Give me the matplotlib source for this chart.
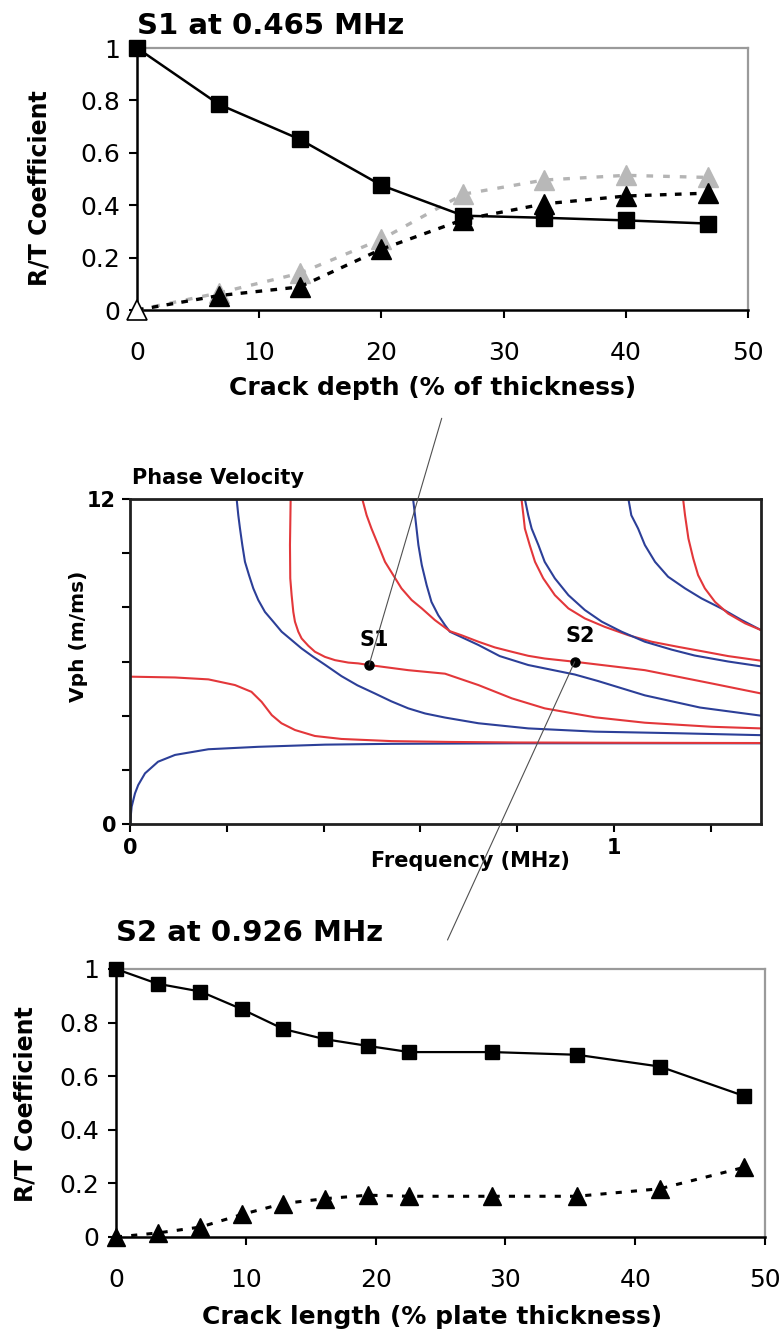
import matplotlib
matplotlib.use('Agg')
import matplotlib.pyplot as plt
from matplotlib.patches import ConnectionPatch

plt.rcParams['font.family'] = ['DejaVu Sans']

# ---------------- data: top chart (S1 at 0.465 MHz) ----------------
depth = [0, 6.7, 13.3, 20, 26.7, 33.3, 40, 46.7]
s1_squares = [1.0, 0.785, 0.652, 0.476, 0.36, 0.352, 0.342, 0.330]
s1_tri_black = [0.0, 0.055, 0.088, 0.232, 0.345, 0.405, 0.435, 0.446]
s1_tri_gray = [0.0, 0.065, 0.14, 0.27, 0.442, 0.496, 0.514, 0.506]

# ---------------- data: bottom chart (S2 at 0.926 MHz) ----------------
length = [0, 3.2, 6.5, 9.7, 12.9, 16.1, 19.4, 22.6, 29.0, 35.5, 41.9, 48.4]
s2_squares = [1.0, 0.945, 0.916, 0.85, 0.776, 0.738, 0.713, 0.69, 0.69, 0.68, 0.636, 0.526]
s2_triangles = [0.0, 0.015, 0.037, 0.084, 0.125, 0.143, 0.156, 0.152, 0.152, 0.152, 0.18, 0.26]

rt_yticks = [0, 0.2, 0.4, 0.6, 0.8, 1.0]
rt_yticklabels = ['0', '0.2', '0.4', '0.6', '0.8', '1']
rt_xticks = [0, 10, 20, 30, 40, 50]

# ---------------- data: dispersion curves (frequency MHz, Vph m/ms) ----------------
A0_f = [0.0, 0.0034, 0.0103, 0.017, 0.031, 0.058, 0.093, 0.162, 0.265, 0.403, 0.541, 0.661, 0.8, 1.0, 1.304]
A0_v = [0.0, 0.64, 1.13, 1.44, 1.87, 2.30, 2.55, 2.76, 2.85, 2.93, 2.96, 2.97, 2.98, 2.98, 2.98]

S0_f = [0.0, 0.093, 0.162, 0.217, 0.251, 0.272, 0.293, 0.313, 0.341, 0.382, 0.437, 0.541, 0.661, 0.8, 1.0, 1.304]
S0_v = [5.44, 5.41, 5.34, 5.13, 4.88, 4.51, 4.02, 3.72, 3.47, 3.25, 3.14, 3.06, 3.03, 3.01, 3.0, 2.99]

A1_f = [0.2204, 0.2238, 0.2273, 0.2321, 0.2376, 0.2459, 0.2548, 0.2651, 0.2789, 0.2961, 0.3134,
        0.3341, 0.3547, 0.3788, 0.403, 0.437, 0.47, 0.506, 0.54, 0.575, 0.61, 0.651, 0.720,
        0.823, 0.961, 1.133, 1.304]
A1_v = [12.0, 11.40, 10.91, 10.30, 9.68, 9.19, 8.70, 8.27, 7.83, 7.47, 7.10,
        6.79, 6.48, 6.17, 5.88, 5.46, 5.12, 4.82, 4.53, 4.27, 4.08, 3.93, 3.72,
        3.53, 3.41, 3.35, 3.28]

S1_f = [0.332, 0.3306, 0.3312, 0.334, 0.3375, 0.3409, 0.3478, 0.3547, 0.3685, 0.3822, 0.4029,
        0.4236, 0.4511, 0.4717, 0.494, 0.575, 0.651, 0.720, 0.789, 0.857, 0.961, 1.064, 1.202, 1.304]
S1_v = [12.0, 10.30, 9.07, 8.45, 7.83, 7.47, 7.10, 6.85, 6.58, 6.36, 6.17,
        6.05, 5.96, 5.93, 5.87, 5.68, 5.55, 5.13, 4.64, 4.27, 3.94, 3.74, 3.59, 3.53]

A2_f = [0.585, 0.589, 0.596, 0.603, 0.613, 0.623, 0.637, 0.651, 0.661, 0.72, 0.764, 0.823,
        0.919, 0.967, 1.064, 1.178, 1.304]
A2_v = [12.0, 11.40, 10.30, 9.56, 8.82, 8.20, 7.71, 7.34, 7.10, 6.61, 6.2, 5.87,
        5.52, 5.28, 4.75, 4.30, 4.00]

S2_f = [0.480, 0.489, 0.499, 0.513, 0.527, 0.544, 0.561, 0.582, 0.603, 0.630, 0.661, 0.685,
        0.72, 0.754, 0.789, 0.823, 0.857, 0.919, 1.064, 1.202, 1.304]
S2_v = [12.0, 11.40, 10.91, 10.30, 9.68, 9.19, 8.70, 8.27, 7.96, 7.53, 7.12, 6.97,
        6.73, 6.52, 6.36, 6.21, 6.11, 5.99, 5.68, 5.19, 4.82]

S3_f = [0.809, 0.813, 0.816, 0.826, 0.837, 0.854, 0.878, 0.906, 0.940, 0.981, 1.030, 1.078,
        1.133, 1.188, 1.236, 1.304]
S3_v = [12.0, 11.40, 10.91, 10.30, 9.68, 9.07, 8.45, 7.96, 7.59, 7.28, 6.97, 6.73,
        6.54, 6.36, 6.20, 6.03]

A3_f = [0.816, 0.823, 0.830, 0.844, 0.857, 0.878, 0.906, 0.940, 0.975, 1.016, 1.064, 1.119,
        1.167, 1.236, 1.304]
A3_v = [12.0, 11.40, 10.91, 10.30, 9.68, 9.07, 8.45, 7.90, 7.47, 7.10, 6.73, 6.44,
        6.22, 6.0, 5.82]

A4_f = [1.030, 1.036, 1.050, 1.064, 1.085, 1.112, 1.147, 1.181, 1.222, 1.264, 1.304]
A4_v = [12.0, 11.40, 10.91, 10.30, 9.68, 9.13, 8.70, 8.33, 7.96, 7.53, 7.16]

S4_f = [1.143, 1.147, 1.154, 1.164, 1.174, 1.188, 1.209, 1.236, 1.271, 1.304]
S4_v = [12.0, 11.40, 10.54, 9.80, 9.19, 8.70, 8.20, 7.77, 7.41, 7.16]

point_f = [0.494, 0.919]
point_v = [5.87, 5.99]
point_labels = ['S1', 'S2']

RED = '#e3373a'
BLUE = '#2c3f98'

W, H = 781, 1338
fig = plt.figure(figsize=(W / 100, H / 100), dpi=100)


def px_axes(l, t, r, b):
    return fig.add_axes([l / W, 1 - b / H, (r - l) / W, (b - t) / H])


ax1 = px_axes(137, 48, 748, 310)
ax2 = px_axes(130, 499, 761, 824)
ax3 = px_axes(116, 969, 765, 1237)


def style_rt(ax):
    ax.set_xlim(0, 50)
    ax.set_ylim(0, 1)
    ax.set_xticks(rt_xticks)
    ax.set_xticklabels([str(t) for t in rt_xticks])
    ax.set_yticks(rt_yticks)
    ax.set_yticklabels(rt_yticklabels)
    for s in ['top', 'right']:
        ax.spines[s].set_color('#9a9a9a')
        ax.spines[s].set_linewidth(1.6)
    for s in ['left', 'bottom']:
        ax.spines[s].set_color('black')
        ax.spines[s].set_linewidth(1.8)
    ax.xaxis.set_tick_params(direction='out', length=6, width=1.5, labelsize=18, pad=16)
    ax.yaxis.set_tick_params(direction='out', length=6, width=1.5, labelsize=18, pad=6)


# ---------------- top chart ----------------
style_rt(ax1)
ax1.plot(depth, s1_tri_gray, ls=(0, (2, 3)), color='#b4b4b4', lw=2.4, marker='^', ms=14,
         mfc='#b8b8b8', mec='#b8b8b8', markevery=slice(1, None), clip_on=False, zorder=3)
ax1.plot(depth, s1_tri_black, ls=(0, (2, 2.5)), color='black', lw=2.4, marker='^', ms=14,
         mfc='black', mec='black', markevery=slice(1, None), clip_on=False, zorder=4)
ax1.plot(depth[:1], s1_tri_black[:1], ls='none', marker='^', ms=14, mfc='white', mec='black',
         mew=1.2, clip_on=False, zorder=6)
ax1.plot(depth, s1_squares, '-', color='black', lw=1.8, marker='s', ms=11, mfc='black',
         mec='black', clip_on=False, zorder=5)
ax1.text(0, 1.084, 'S1 at 0.465 MHz', transform=ax1.transAxes, ha='left', va='center',
         fontsize=21, fontweight='bold')
ax1.set_xlabel('Crack depth (% of thickness)', fontsize=18, fontweight='bold')
ax1.xaxis.set_label_coords(0.483, -0.298)
ax1.xaxis.label.set_va('center')
ax1.set_ylabel('R/T Coefficient', fontsize=17, fontweight='bold')
ax1.yaxis.set_label_coords(-0.159, 0.466)
ax1.yaxis.label.set_va('center')

# ---------------- middle chart ----------------
ax2.set_xlim(0, 1.304)
ax2.set_ylim(0, 12)
curves = [(A0_f, A0_v, BLUE), (S0_f, S0_v, RED), (A1_f, A1_v, BLUE), (S1_f, S1_v, RED),
          (A2_f, A2_v, BLUE), (S2_f, S2_v, RED), (S3_f, S3_v, RED), (A3_f, A3_v, BLUE),
          (A4_f, A4_v, BLUE), (S4_f, S4_v, RED)]
for f, v, c in curves:
    ax2.plot(f, v, color=c, lw=1.5, solid_capstyle='round', solid_joinstyle='round', zorder=2)
ax2.plot(point_f, point_v, 'o', color='black', ms=6.5, zorder=5)
for f, v, lab in zip(point_f, point_v, point_labels):
    ax2.annotate(lab, (f, v), xytext=(4, 11), textcoords='offset points', ha='center',
                 va='bottom', fontsize=15, fontweight='bold')
xt = [0, 0.2, 0.4, 0.6, 0.8, 1.0, 1.2]
ax2.set_xticks(xt)
ax2.set_xticklabels(['0', '', '', '', '', '1', ''])
yt = [0, 2, 4, 6, 8, 10, 12]
ax2.set_yticks(yt)
ax2.set_yticklabels(['0', '', '', '', '', '', '12'])
for s in ax2.spines.values():
    s.set_linewidth(2.0)
    s.set_color('#202020')
ax2.xaxis.set_tick_params(direction='out', length=6, width=1.5, labelsize=15, pad=4)
ax2.yaxis.set_tick_params(direction='out', length=6, width=1.5, labelsize=15, pad=4)
for t in ax2.get_xticklabels() + ax2.get_yticklabels():
    t.set_fontweight('bold')
ax2.text(0.003, 1.066, 'Phase Velocity', transform=ax2.transAxes, ha='left', va='center',
         fontsize=15, fontweight='bold')
ax2.set_xlabel('Frequency (MHz)', fontsize=15, fontweight='bold')
ax2.xaxis.set_label_coords(0.539, -0.114)
ax2.xaxis.label.set_va('center')
ax2.set_ylabel('Vph (m/ms)', fontsize=14.5, fontweight='bold')
ax2.yaxis.set_label_coords(-0.082, 0.576)
ax2.yaxis.label.set_va('center')

# ---------------- bottom chart ----------------
style_rt(ax3)
ax3.plot(length, s2_triangles, ls=(0, (2, 3)), color='black', lw=2.2, marker='^', ms=13,
         mfc='black', mec='black', clip_on=False, zorder=4)
ax3.plot(length, s2_squares, '-', color='black', lw=1.6, marker='s', ms=10.5, mfc='black',
         mec='black', clip_on=False, zorder=5)
ax3.text(0, 1.134, 'S2 at 0.926 MHz', transform=ax3.transAxes, ha='left', va='center',
         fontsize=21, fontweight='bold')
ax3.set_xlabel('Crack length (% plate thickness)', fontsize=18, fontweight='bold')
ax3.xaxis.set_label_coords(0.487, -0.299)
ax3.xaxis.label.set_va('center')
ax3.set_ylabel('R/T Coefficient', fontsize=17, fontweight='bold')
ax3.yaxis.set_label_coords(-0.140, 0.496)
ax3.yaxis.label.set_va('center')

# ---------------- connector lines ----------------
c1 = ConnectionPatch(xyA=(441.7 / W, 1 - 418.3 / H), coordsA='figure fraction',
                     xyB=(point_f[0], point_v[0]), coordsB=ax2.transData,
                     color='#505050', lw=0.8, zorder=10)
fig.add_artist(c1)
c2 = ConnectionPatch(xyA=(point_f[1], point_v[1]), coordsA=ax2.transData,
                     xyB=(447.5 / W, 1 - 940 / H), coordsB='figure fraction',
                     color='#505050', lw=0.8, zorder=10)
fig.add_artist(c2)

fig.savefig('out.png', dpi=100)
